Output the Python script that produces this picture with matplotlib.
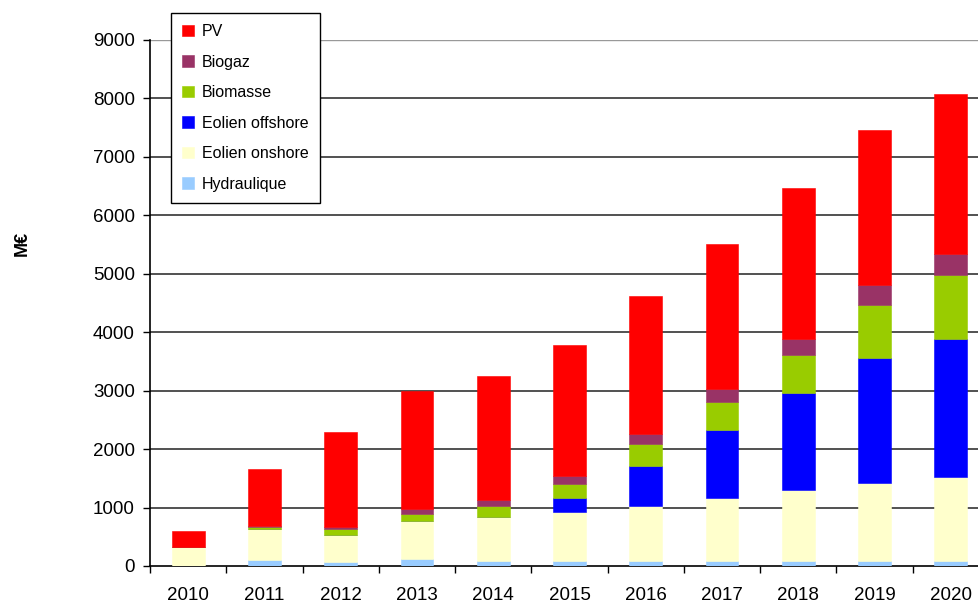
import matplotlib
matplotlib.use('Agg')
import matplotlib.pyplot as plt
import numpy as np

plt.rcParams['font.family'] = ['Liberation Sans', 'DejaVu Sans']

years = ['2010', '2011', '2012', '2013', '2014', '2015', '2016', '2017', '2018', '2019', '2020']

# M€ per filière, bottom to top of each stack
hydraulique = [0, 110, 60, 114, 90, 85, 85, 85, 85, 85, 85]
eolien_onshore = [325, 515, 470, 660, 752, 842, 945, 1071, 1218, 1338, 1435]
eolien_offshore = [0, 0, 0, 0, 0, 229, 683, 1167, 1657, 2142, 2362]
biomasse = [0, 45, 97, 119, 188, 245, 366, 490, 656, 905, 1094]
biogaz = [0, 12, 39, 75, 97, 141, 176, 210, 261, 341, 365]
pv = [270, 985, 1635, 2029, 2123, 2245, 2357, 2489, 2591, 2648, 2733]

series = [
    ('Hydraulique', hydraulique, '#99CCFF'),
    ('Eolien onshore', eolien_onshore, '#FFFFCC'),
    ('Eolien offshore', eolien_offshore, '#0000FF'),
    ('Biomasse', biomasse, '#99CC00'),
    ('Biogaz', biogaz, '#993366'),
    ('PV', pv, '#FF0000'),
]

fig = plt.figure(figsize=(9.79, 6.03), dpi=100)
ax = fig.add_axes([150/979, 37/603, 839/979, 526/603])

x = np.arange(len(years))
bottom = np.zeros(len(years))
handles = []
for name, vals, col in series:
    vals = np.array(vals, dtype=float)
    b = ax.bar(x, vals, 0.43, bottom=bottom, color=col, label=name,
               edgecolor=col, linewidth=0.4, zorder=3)
    handles.append(b)
    bottom += vals

ax.set_xlim(-0.5, len(years) - 0.5)
ax.set_ylim(0, 9000)
ax.set_yticks(range(0, 9001, 1000))
for v in range(1000, 9000, 1000):
    ax.axhline(v, color='#222222', lw=1.1, zorder=1)
ax.axhline(9000, color='#999999', lw=1.0, zorder=1)

# ticks between categories, labels centred on the bars
ax.set_xticks(np.arange(-0.5, len(years), 1.0))
ax.set_xticklabels([])
ax.set_xticks(x, minor=True)
ax.set_xticklabels(years, minor=True)
ax.tick_params(axis='x', which='major', length=5, width=1, direction='out')
ax.tick_params(axis='x', which='minor', length=0, pad=15, labelsize=13.5)
ax.tick_params(axis='y', length=5, width=1, pad=6, labelsize=13.5)

for s in ['top', 'right']:
    ax.spines[s].set_visible(False)
ax.spines['left'].set_linewidth(1.2)
ax.spines['bottom'].set_linewidth(1.2)

fig.text(22/979, 1 - 243/603, 'M€', rotation=90, ha='center', va='center',
         fontsize=13, fontweight='bold')

leg = ax.legend(handles[::-1], [s[0] for s in series][::-1],
                loc='upper left', bbox_to_anchor=(171/979, 1 - 13/603),
                bbox_transform=fig.transFigure, borderaxespad=0,
                fancybox=False, shadow=False, framealpha=1, edgecolor='black',
                fontsize=11.5, handlelength=0.75, handleheight=0.75,
                handletextpad=0.5, labelspacing=0.97, borderpad=0.7)
leg.get_frame().set_linewidth(1.0)

fig.savefig('out.png', dpi=100)
